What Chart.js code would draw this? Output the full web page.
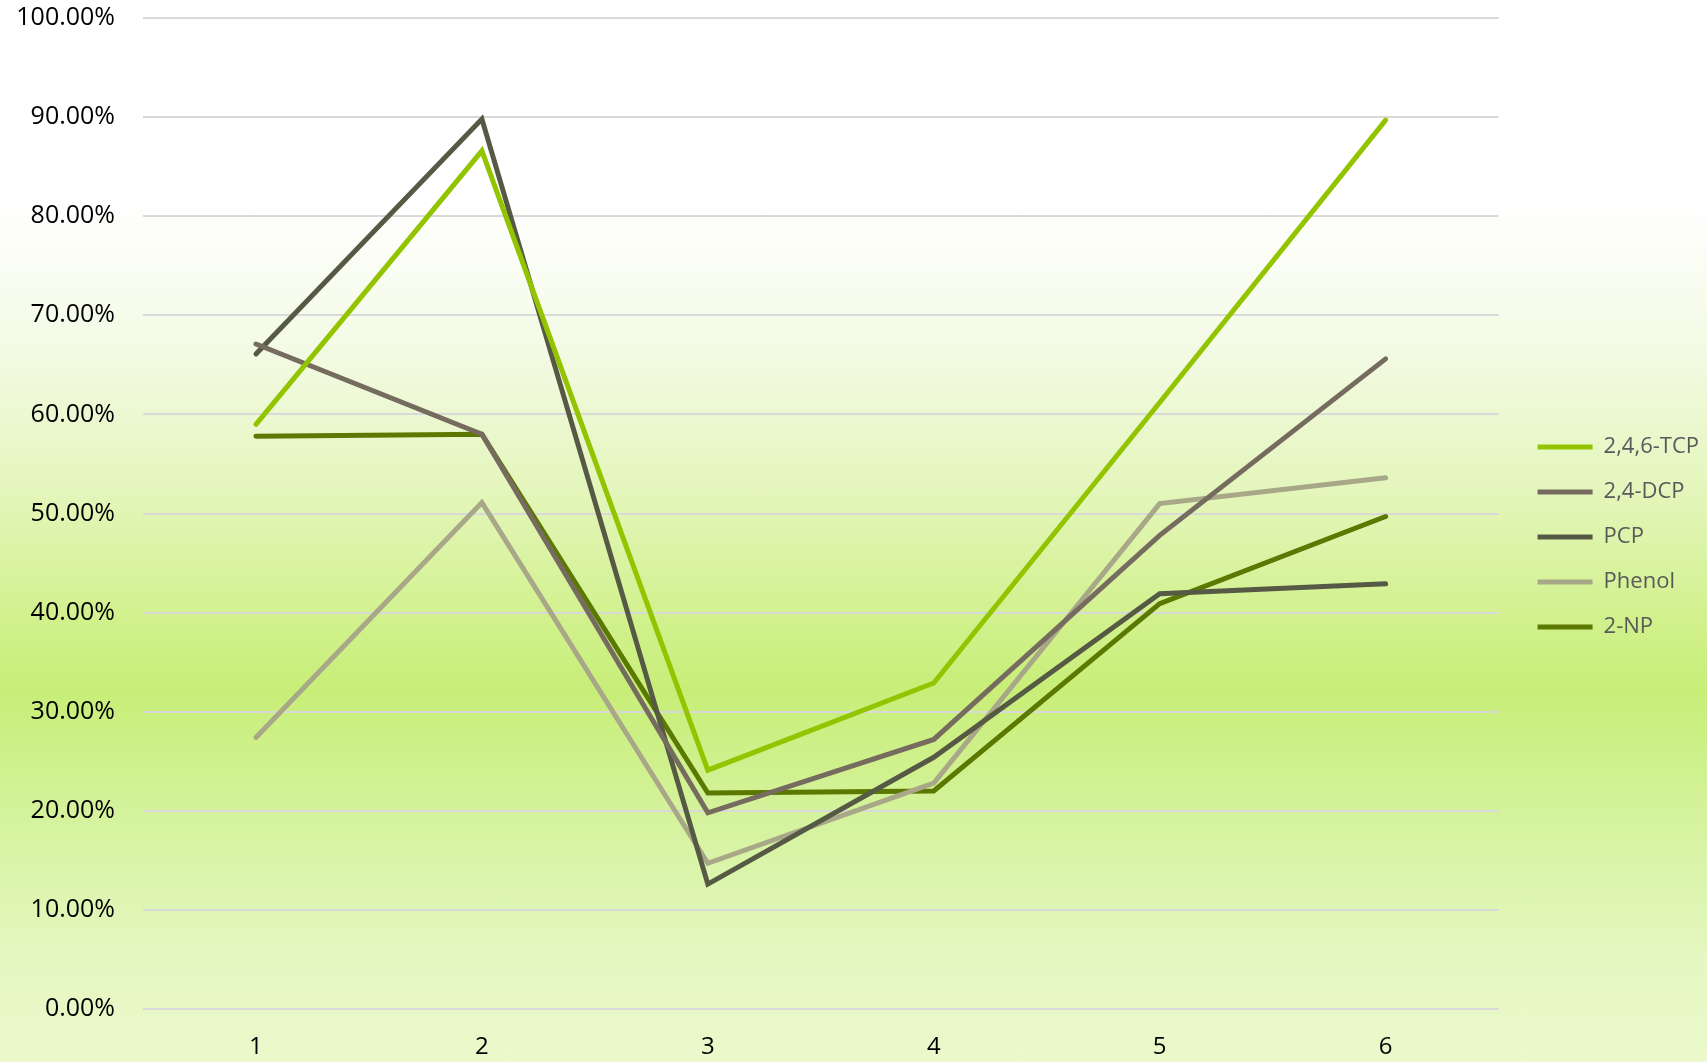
<!DOCTYPE html>
<html lang="en">
<head>
  <meta charset="UTF-8" />
  <title>Removal efficiency</title>
  <script src="https://cdn.jsdelivr.net/npm/chart.js"></script>
  <style>
    html, body {
      margin: 0;
      padding: 0;
    }
    body {
      width: 1707px;
      height: 1062px;
      overflow: hidden;
      background: linear-gradient(to bottom,
        #ffffff 0%, #ffffff 19%, #f3fae4 33%, #e4f6bc 46%,
        #d2f18e 58%, #c8ee78 65%, #d6f3a0 78%, #e4f7c0 90%, #ebf9cc 100%);
    }
    #wrap {
      width: 1707px;
      height: 1062px;
    }
  </style>
</head>
<body>
  <div id="wrap"><canvas id="removalChart"></canvas></div>

  <script>
    const runs = ['1', '2', '3', '4', '5', '6'];
    const tcp = [59.0, 86.6, 24.1, 32.9, 61.2, 89.7];
    const dcp = [67.1, 58.0, 19.8, 27.2, 47.8, 65.6];
    const pcp = [66.1, 89.8, 12.6, 25.4, 41.9, 42.9];
    const phenol = [27.4, 51.1, 14.7, 22.8, 51.0, 53.6];
    const np2 = [57.8, 58.0, 21.8, 22.0, 40.9, 49.7];

    const font = '"Open Sans", sans-serif';

    function series(label, values, color) {
      return {
        label: label,
        data: values,
        borderColor: color,
        backgroundColor: color,
        borderWidth: 5,
        borderCapStyle: 'round',
        borderJoinStyle: 'miter',
        pointRadius: 0,
        fill: false,
        tension: 0
      };
    }

    // nudge the legend column a bit right of the plot and up
    // (move the right edge too, the legend clips to its own box)
    const legendNudge = {
      id: 'legendNudge',
      afterLayout(chart) {
        chart.legend.left += 16;
        chart.legend.right += 16;
        chart.legend.top -= 6;
      }
    };

    const ctx = document.getElementById('removalChart').getContext('2d');
    const chart = new Chart(ctx, {
      type: 'line',
      data: {
        labels: runs,
        datasets: [
          series('2,4,6-TCP', tcp, '#92c400'),
          series('2,4-DCP', dcp, '#756b5f'),
          series('PCP', pcp, '#565a45'),
          series('Phenol', phenol, '#a8a889'),
          series('2-NP', np2, '#5b7800')
        ]
      },
      options: {
        responsive: true,
        maintainAspectRatio: false,
        animation: false,
        layout: {
          padding: { top: 18, right: 14, bottom: 0, left: 0 }
        },
        scales: {
          x: {
            offset: true,
            grid: { display: false, drawTicks: false },
            border: { display: false },
            ticks: {
              color: '#000',
              padding: 24,
              font: { family: font, size: 24 }
            },
            afterFit: (scale) => { scale.height = 53; }
          },
          y: {
            min: 0,
            max: 100,
            grid: { color: '#d9d9d9', lineWidth: 2, drawTicks: false },
            border: { display: false },
            ticks: {
              stepSize: 10,
              color: '#000',
              padding: 28,
              font: { family: font, size: 25 },
              callback: (v) => v.toFixed(2) + '%'
            },
            afterFit: (scale) => {
              scale.width = 143;
              // the top label may overhang; keep 100% on the padding line
              scale.paddingTop = 0;
              scale.paddingBottom = 0;
            }
          }
        },
        plugins: {
          legend: {
            position: 'right',
            labels: {
              usePointStyle: true,
              pointStyle: 'line',
              pointStyleWidth: 55,
              padding: 23,
              color: '#595959',
              font: { family: font, size: 22 }
            }
          },
          tooltip: { enabled: false }
        }
      },
      plugins: [legendNudge]
    });
  </script>
</body>
</html>
